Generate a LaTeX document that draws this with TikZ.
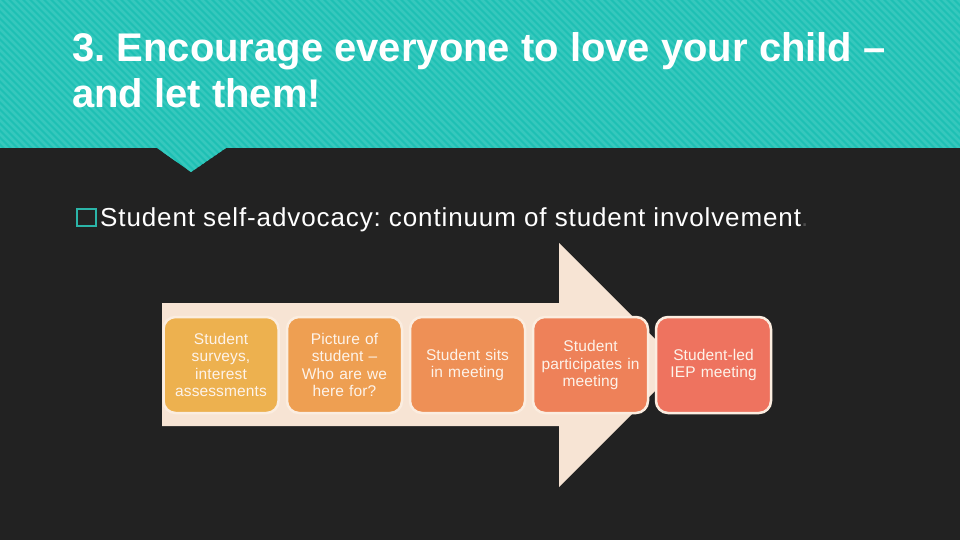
\documentclass[tikz,border=0pt]{standalone}
\usepackage{fontspec}
\setmainfont{Liberation Sans}
\frenchspacing
\definecolor{bgdark}{HTML}{222222}
\definecolor{teal}{HTML}{1EC0B4}
\definecolor{tealstripe}{HTML}{36C8BD}
\definecolor{bullet}{HTML}{2BB5A8}
\definecolor{arrowfill}{HTML}{F7E4D4}
\definecolor{boxline}{HTML}{FBEDE0}
\definecolor{boxtext}{HTML}{FDF3EA}
\definecolor{cA}{HTML}{EDB14F}
\definecolor{cB}{HTML}{EE9F52}
\definecolor{cC}{HTML}{EE9056}
\definecolor{cD}{HTML}{EE8159}
\definecolor{cE}{HTML}{EE735F}
\begin{document}
\begin{tikzpicture}[x=1pt,y=-1pt,
  stepbox/.style={draw=boxline, line width=2.5pt, rounded corners=12pt,
    minimum width=115pt, minimum height=96pt, text width=114pt, align=center,
    font=\fontsize{15.5}{17.3}\selectfont\addfontfeatures{LetterSpace=0.8}, text=boxtext, inner sep=0pt},
  titletext/.style={anchor=base west, inner sep=0pt, text=white,
    font=\fontsize{40}{46}\selectfont\bfseries},
  stripe/.style={tealstripe, line width=2.6pt}
]
\useasboundingbox (0,0) rectangle (960,540);
\fill[bgdark] (0,0) rectangle (960,540);
% header band with pointer
\fill[teal] (0,0) -- (960,0) -- (960,148) -- (226,148) -- (191,172) -- (157,148) -- (0,148) -- cycle;
\begin{scope}
  \clip (0,0) -- (960,0) -- (960,148) -- (226,148) -- (191,172) -- (157,148) -- (0,148) -- cycle;
  \foreach \i in {-200,-193,...,1000} \draw[stripe] (\i,-10) -- ++(200,200);
\end{scope}
\node[titletext] (title1) at (72,62) {3. Encourage everyone to love your child –};
\node[titletext] (title2) at (72,108) {and let them!};
% bullet
\draw[bullet, line width=2.2pt] (77,209) rectangle (96,226) coordinate (bulletbox);
\node[anchor=base west, inner sep=0pt, text=white, font=\fontsize{26}{30}\selectfont\addfontfeatures{LetterSpace=3.4}] (bullettext) at (100,226.5)
  {Student self-advocacy: continuum of student involvement\textcolor{gray!60!black}{.}};
% big arrow
\fill[arrowfill] (162,303) -- (559,303) -- (559,243) -- (681,365) -- (559,487) -- (559,426) -- (162,426) -- cycle;
% boxes
\node[stepbox, fill=cA] (s1) at (221,365) {Student\\surveys,\\interest\\assessments};
\node[stepbox, fill=cB] (s2) at (344.5,365) {Picture of\\student –\\Who are we\\here for?};
\node[stepbox, fill=cC] (s3) at (467.5,365) {Student sits\\in meeting};
\node[stepbox, fill=cD] (s4) at (590.5,365) {Student\\participates in\\meeting};
\node[stepbox, fill=cE] (s5) at (713.5,365) {Student-led\\IEP meeting};
\end{tikzpicture}
\end{document}
